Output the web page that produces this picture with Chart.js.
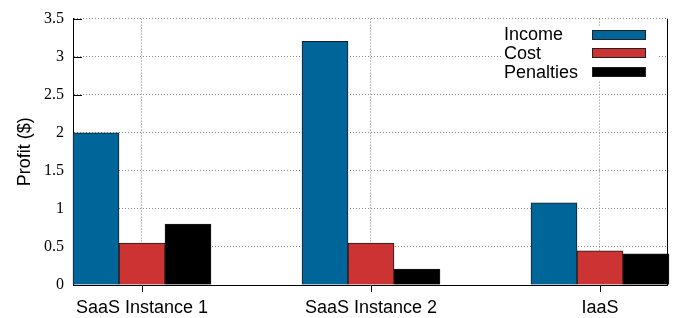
<!DOCTYPE html>
<html>
<head>
<meta charset="utf-8">
<script src="https://cdn.jsdelivr.net/npm/chart.js@4.4.0/dist/chart.umd.min.js"></script>
<style>
  html, body { margin: 0; padding: 0; background: #fff; }
</style>
</head>
<body>
<canvas id="myChart" width="673" height="318"></canvas>
<script>
const categories = ["SaaS Instance 1", "SaaS Instance 2", "IaaS"];
const income = [2.0, 3.2, 1.08];
const cost = [0.55, 0.55, 0.45];
const penalties = [0.8, 0.21, 0.41];
const yTicks = [0, 0.5, 1, 1.5, 2, 2.5, 3, 3.5];

const seriesNames = ["Income", "Cost", "Penalties"];
const seriesColors = ["#006699", "#cc3333", "#000000"];

function points(values) {
  return values.map(function (v, i) { return { x: i, y: v }; });
}

// gnuplot style frame: inner y ticks, outer x ticks, right border
const framePlugin = {
  id: "frame",
  beforeDatasetsDraw: function (chart) {
    const ctx = chart.ctx;
    const area = chart.chartArea;
    const xs = chart.scales.x;
    const ys = chart.scales.y;
    ctx.save();
    ctx.strokeStyle = "#000";
    ctx.lineWidth = 1;
    ctx.beginPath();
    yTicks.forEach(function (v) {
      const y = Math.round(ys.getPixelForValue(v)) + 0.5;
      ctx.moveTo(area.left, y);
      ctx.lineTo(area.left + 9, y);
    });
    categories.forEach(function (c, i) {
      const x = Math.round(xs.getPixelForValue(i)) + 0.5;
      ctx.moveTo(x, area.bottom);
      ctx.lineTo(x, area.bottom + 7);
    });
    const rx = Math.round(area.right) + 0.5;
    ctx.moveTo(rx, area.top);
    ctx.lineTo(rx, area.bottom);
    ctx.stroke();
    ctx.restore();
  },
};

const keyPlugin = {
  id: "key",
  afterDraw: function (chart) {
    const ctx = chart.ctx;
    ctx.save();
    ctx.fillStyle = "#fff";
    ctx.fillRect(503, 26, 154, 55);
    ctx.font = "18px 'Liberation Sans', Arial, sans-serif";
    ctx.textBaseline = "middle";
    ctx.textAlign = "left";
    seriesNames.forEach(function (name, i) {
      const cy = 34.5 + i * 18.6;
      ctx.fillStyle = "#000";
      ctx.fillText(name, 504, cy + 1);
      ctx.fillStyle = seriesColors[i];
      ctx.fillRect(592, Math.round(cy - 5), 54, 10);
      ctx.strokeStyle = "#222";
      ctx.lineWidth = 1;
      ctx.strokeRect(592.5, Math.round(cy - 5) + 0.5, 53, 9);
    });
    ctx.restore();
  },
};

const ctx = document.getElementById("myChart").getContext("2d");

const myChart = new Chart(ctx, {
  type: "bar",
  data: {
    datasets: [
      { label: seriesNames[0], data: points(income), backgroundColor: seriesColors[0] },
      { label: seriesNames[1], data: points(cost), backgroundColor: seriesColors[1] },
      { label: seriesNames[2], data: points(penalties), backgroundColor: seriesColors[2] },
    ],
  },
  options: {
    responsive: false,
    animation: false,
    layout: { padding: { top: 16, right: 6, left: 0, bottom: 0 } },
    datasets: {
      bar: {
        barThickness: 46,
        borderWidth: 1,
        borderColor: "#1a1a1a",
        borderSkipped: "start",
        clip: false,
      },
    },
    scales: {
      x: {
        type: "linear",
        min: -0.3013,
        max: 2.2926,
        bounds: "data",
        offset: false,
        afterBuildTicks: function (s) {
          s.ticks = categories.map(function (c, i) { return { value: i }; });
        },
        afterFit: function (s) { s.height = 33; },
        ticks: {
          callback: function (v) { return categories[Math.round(v)]; },
          font: { family: "'Liberation Sans', Arial, sans-serif", size: 18 },
          color: "#000",
          padding: 12,
          maxRotation: 0,
          autoSkip: false,
        },
        grid: { color: "#888", drawTicks: false, offset: false, lineWidth: 1 },
        border: { display: true, color: "#000", width: 1, dash: [1, 2] },
      },
      y: {
        min: 0,
        max: 3.5,
        afterBuildTicks: function (s) {
          s.ticks = yTicks.map(function (v) { return { value: v }; });
        },
        afterFit: function (s) { s.width = 73; },
        ticks: {
          callback: function (v) { return String(v); },
          font: { family: "'Liberation Serif', 'Times New Roman', serif", size: 16 },
          color: "#000",
          padding: 9,
        },
        grid: { color: "#888", drawTicks: false, lineWidth: 1 },
        border: { display: true, color: "#000", width: 1, dash: [1, 2] },
        title: {
          display: true,
          text: "Profit ($)",
          font: { family: "'Liberation Sans', Arial, sans-serif", size: 18 },
          color: "#000",
          padding: { top: 14, bottom: 0 },
        },
      },
    },
    plugins: {
      legend: { display: false },
      tooltip: { enabled: false },
    },
  },
  plugins: [framePlugin, keyPlugin],
});
</script>
</body>
</html>
